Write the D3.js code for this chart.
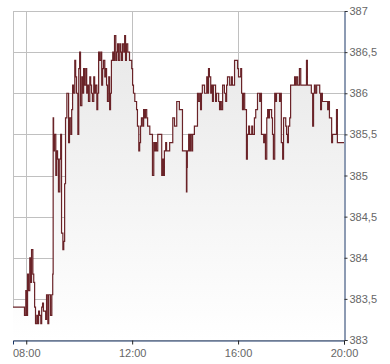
<html lang="en">
<head>
    <meta charset="UTF-8">
    <title>Intraday price</title>
    <script src="https://d3js.org/d3.v7.min.js"></script>
    <style>
        body { margin: 0; background: #fff; }
        .tick text { font-family: "Liberation Sans", Arial, sans-serif; font-size: 11px; fill: #666; }
    </style>
</head>
<body>
    <script>
        // time of each trade (step line, value holds until next point)
        const times = [
            "07:30", "07:56", "07:59", "08:01", "08:03", "08:05", "08:08", "08:10", "08:12", "08:15",
            "08:17", "08:19", "08:21", "08:24", "08:26", "08:28", "08:30", "08:33", "08:35", "08:37",
            "08:39", "08:44", "08:46", "08:49", "08:51", "08:55", "08:58", "09:00", "09:01", "09:02",
            "09:04", "09:07", "09:09", "09:11", "09:13", "09:16", "09:18", "09:20", "09:23", "09:25",
            "09:27", "09:29", "09:32", "09:34", "09:36", "09:38", "09:41", "09:43", "09:45", "09:47",
            "09:50", "09:52", "09:54", "09:57", "09:59", "10:01", "10:03", "10:06", "10:08", "10:10",
            "10:12", "10:15", "10:17", "10:19", "10:21", "10:24", "10:26", "10:28", "10:30", "10:33",
            "10:35", "10:37", "10:40", "10:42", "10:44", "10:46", "10:49", "10:51", "10:53", "10:55",
            "10:58", "11:00", "11:02", "11:04", "11:07", "11:09", "11:11", "11:13", "11:16", "11:18",
            "11:20", "11:23", "11:25", "11:27", "11:29", "11:32", "11:34", "11:36", "11:38", "11:41",
            "11:43", "11:45", "11:47", "11:50", "11:54", "11:59", "12:01", "12:03", "12:06", "12:10",
            "12:12", "12:15", "12:17", "12:19", "12:21", "12:24", "12:26", "12:28", "12:30", "12:33",
            "12:35", "12:40", "12:46", "12:49", "12:51", "12:53", "12:55", "12:58", "13:07", "13:09",
            "13:11", "13:13", "13:16", "13:18", "13:25", "13:32", "13:36", "13:41", "13:47", "13:54",
            "14:03", "14:04", "14:05", "14:08", "14:10", "14:12", "14:15", "14:17", "14:21", "14:28",
            "14:30", "14:33", "14:35", "14:37", "14:39", "14:44", "14:49", "14:51", "14:53", "14:55",
            "14:58", "15:00", "15:02", "15:04", "15:09", "15:11", "15:16", "15:18", "15:20", "15:22",
            "15:25", "15:29", "15:32", "15:34", "15:36", "15:41", "15:45", "15:47", "15:52", "15:59",
            "16:01", "16:06", "16:08", "16:10", "16:12", "16:15", "16:19", "16:21", "16:24", "16:26",
            "16:31", "16:33", "16:37", "16:40", "16:44", "16:49", "16:51", "16:53", "16:58", "17:00",
            "17:02", "17:05", "17:07", "17:09", "17:11", "17:16", "17:18", "17:20", "17:23", "17:25",
            "17:27", "17:34", "17:36", "17:38", "17:41", "17:43", "17:48", "17:50", "17:52", "17:54",
            "17:57", "17:59", "18:08", "18:10", "18:12", "18:15", "18:19", "18:22", "18:35", "18:37",
            "18:46", "18:49", "18:51", "18:53", "18:55", "18:58", "19:05", "19:07", "19:09", "19:11",
            "19:23", "19:25", "19:27", "19:32", "19:34", "19:43", "19:45", "20:00"
        ];

        const prices = [
            383.40, 383.30, 383.60, 383.30, 383.80, 383.60, 384.00, 383.70, 384.10, 383.80,
            383.70, 383.40, 383.20, 383.30, 383.20, 383.35, 383.30, 383.20, 383.40, 383.45,
            383.35, 383.25, 383.55, 383.20, 383.55, 383.30, 383.55, 383.80, 385.70, 385.30,
            385.50, 385.00, 385.30, 385.20, 384.80, 385.20, 385.50, 384.30, 384.10, 384.20,
            384.90, 385.70, 386.00, 386.00, 385.40, 385.70, 385.50, 385.80, 386.10, 386.00,
            386.40, 386.20, 386.00, 385.50, 386.30, 386.50, 385.85, 386.20, 386.00, 386.30,
            386.10, 386.30, 386.00, 386.10, 385.90, 386.20, 386.10, 386.00, 385.90, 386.20,
            386.00, 386.10, 385.80, 386.00, 386.50, 386.40, 386.50, 386.10, 386.30, 386.40,
            386.20, 386.30, 386.10, 385.90, 386.20, 385.80, 386.00, 386.40, 386.50, 386.40,
            386.70, 386.40, 386.50, 386.60, 386.40, 386.60, 386.50, 386.40, 386.60, 386.50,
            386.70, 386.40, 386.60, 386.50, 386.40, 386.30, 386.10, 386.00, 385.90, 385.80,
            385.60, 385.30, 385.40, 385.60, 385.70, 385.60, 385.80, 385.70, 385.80, 385.70,
            385.60, 385.50, 385.00, 385.40, 385.30, 385.40, 385.30, 385.50, 385.00, 385.20,
            385.00, 385.30, 385.40, 385.30, 385.40, 385.70, 385.60, 385.90, 385.80, 385.30,
            384.80, 385.10, 385.30, 385.50, 385.30, 385.50, 385.30, 385.50, 385.60, 386.00,
            385.90, 386.00, 385.80, 386.00, 386.10, 386.00, 386.20, 386.00, 386.30, 386.20,
            386.00, 386.10, 385.90, 386.10, 385.90, 386.00, 385.90, 385.80, 385.90, 385.80,
            386.10, 386.00, 385.90, 386.10, 386.20, 386.10, 386.20, 386.10, 386.40, 386.30,
            386.20, 386.30, 386.00, 385.80, 386.00, 385.80, 385.20, 385.50, 385.60, 385.50,
            385.60, 385.50, 385.70, 385.80, 386.00, 385.90, 386.00, 385.50, 385.40, 385.50,
            385.20, 385.70, 385.80, 385.70, 385.80, 385.70, 385.50, 385.20, 386.00, 385.90,
            386.00, 385.90, 386.00, 385.40, 385.20, 385.70, 385.60, 385.50, 385.40, 385.60,
            385.70, 386.10, 386.20, 386.10, 386.20, 386.10, 386.30, 386.10, 386.40, 386.10,
            386.00, 385.60, 386.00, 386.10, 386.00, 386.10, 386.00, 385.80, 386.00, 385.90,
            385.80, 385.90, 385.70, 385.40, 385.50, 385.80, 385.40, 385.40
        ];

        const priceTicks = [383, 383.5, 384, 384.5, 385, 385.5, 386, 386.5, 387];
        const timeTicks = ["08:00", "12:00", "16:00", "20:00"];
        const gridTimes = ["07:30", "08:00", "12:00", "16:00"];

        const w = 390;
        const h = 364;
        const margin = { top: 11, right: 46, bottom: 24, left: 13 };

        const parseTime = d3.timeParse("%H:%M");
        const data = times.map((t, i) => ({ t: parseTime(t), v: prices[i] }));

        const locale = d3.formatLocale({ decimal: ",", thousands: ".", grouping: [3], currency: ["", "€"] });
        const formatPrice = locale.format("~g");

        const x = d3.scaleTime()
            .domain([parseTime("07:30"), parseTime("20:00")])
            .range([margin.left, w - margin.right]);

        const y = d3.scaleLinear()
            .domain([383, 387])
            .range([h - margin.bottom, margin.top]);

        const svg = d3.select("body")
            .append("svg")
            .attr("width", w)
            .attr("height", h);

        // background gradient under the line
        const grad = svg.append("defs")
            .append("linearGradient")
            .attr("id", "fillGrad")
            .attr("gradientUnits", "userSpaceOnUse")
            .attr("x1", 0).attr("x2", 0)
            .attr("y1", y(387)).attr("y2", y(383));
        grad.append("stop").attr("offset", "0%").attr("stop-color", "#e6e6e6");
        grad.append("stop").attr("offset", "100%").attr("stop-color", "#ffffff");

        // grid
        svg.append("g")
            .selectAll("line")
            .data(priceTicks)
            .enter()
            .append("line")
            .attr("x1", margin.left)
            .attr("x2", w - margin.right)
            .attr("y1", (d) => Math.round(y(d)) + 0.5)
            .attr("y2", (d) => Math.round(y(d)) + 0.5)
            .attr("stroke", "#c0c0c0");

        svg.append("g")
            .selectAll("line")
            .data(gridTimes)
            .enter()
            .append("line")
            .attr("x1", (d) => Math.round(x(parseTime(d))) + 0.5)
            .attr("x2", (d) => Math.round(x(parseTime(d))) + 0.5)
            .attr("y1", margin.top)
            .attr("y2", h - margin.bottom)
            .attr("stroke", "#c0c0c0");

        // area + step line
        const area = d3.area()
            .curve(d3.curveStepAfter)
            .x((d) => x(d.t))
            .y0(y(383))
            .y1((d) => y(d.v));

        const line = d3.line()
            .curve(d3.curveStepAfter)
            .x((d) => x(d.t))
            .y((d) => y(d.v));

        svg.append("path")
            .datum(data)
            .attr("d", area)
            .attr("fill", "url(#fillGrad)");

        svg.append("path")
            .datum(data)
            .attr("d", line)
            .attr("fill", "none")
            .attr("stroke", "#6a2328")
            .attr("stroke-width", 1.2);

        // axes
        const yAxis = d3.axisRight(y)
            .tickValues(priceTicks)
            .tickFormat(formatPrice)
            .tickSize(3)
            .tickPadding(2);

        const xAxis = d3.axisBottom(x)
            .tickValues(timeTicks.map(parseTime))
            .tickFormat(d3.timeFormat("%H:%M"))
            .tickSize(4)
            .tickPadding(3);

        const gy = svg.append("g")
            .attr("transform", "translate(" + (w - margin.right + 0.5) + ",0)")
            .call(yAxis);
        gy.select(".domain").attr("stroke", "#1b3766");
        gy.selectAll(".tick line").attr("stroke", "#333");

        const gx = svg.append("g")
            .attr("transform", "translate(0," + (h - margin.bottom + 0.5) + ")")
            .call(xAxis);
        gx.select(".domain").attr("stroke", "#1b3766");
        gx.selectAll(".tick line").attr("stroke", "#222");
        gx.selectAll(".tick text").attr("dy", "0.9em");
    </script>
</body>
</html>
